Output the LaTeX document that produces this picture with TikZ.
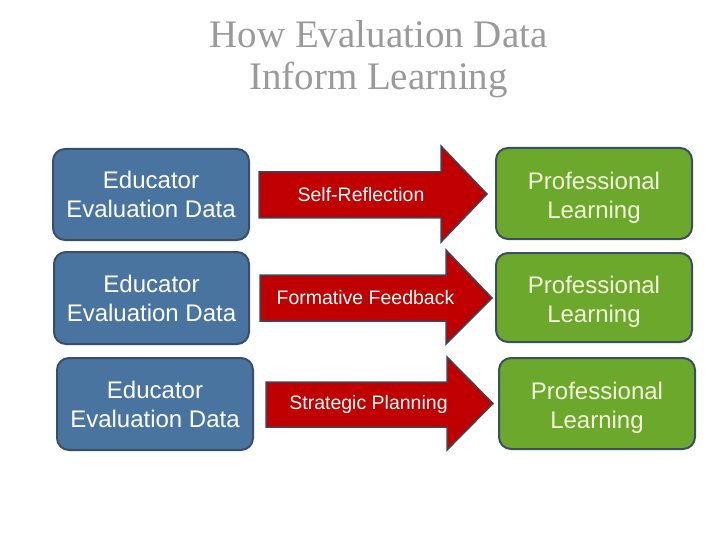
\documentclass[tikz,border=0pt]{standalone}
\usepackage{fontspec}
\setmainfont{Liberation Sans}
\newfontfamily\titlefont{Liberation Serif}
\definecolor{bluefill}{HTML}{4A74A0}
\definecolor{blueedge}{HTML}{3A4F66}
\definecolor{redfill}{HTML}{C00000}
\definecolor{rededge}{HTML}{3B4658}
\definecolor{greenfill}{HTML}{6BA82B}
\definecolor{greenedge}{HTML}{3A5060}
\definecolor{greentext}{HTML}{F4F6DC}
\definecolor{titlegray}{HTML}{9A9A9A}
\tikzset{
  box/.style={draw, line width=2pt, rounded corners=12pt},
  bluebox/.style={box, fill=bluefill, draw=blueedge},
  greenbox/.style={box, fill=greenfill, draw=greenedge},
  arrowshape/.style={fill=redfill, draw=rededge, line width=1.5pt, line join=miter},
  boxtext/.style={text=white, font=\fontsize{24}{29}\selectfont, align=center},
  greentextstyle/.style={boxtext, text=greentext},
  arrowtext/.style={text=white, font=\fontsize{19.5}{23}\selectfont, align=center},
}
\begin{document}
\begin{tikzpicture}[x=1pt, y=-1pt]
\useasboundingbox (0,0) rectangle (720,540);
% title
\node[text=titlegray, font=\titlefont\fontsize{39}{42}\selectfont, align=center] (title) at (378.5,59) {How Evaluation Data\\Inform Learning};
% row 1
\draw[bluebox] (53,149) rectangle (249,240);
\node[boxtext] (b1) at (151,194.5) {Educator\\Evaluation Data};
\draw[arrowshape] (259,172) -- (441,172) -- (441,146) -- (487,194) -- (441,242) -- (441,218) -- (259,218) -- cycle;
\node[arrowtext] (a1) at (361,195) {Self-Reflection};
\draw[greenbox] (496,148) rectangle (692,239);
\node[greentextstyle] (g1) at (594,198) {Professional\\Learning};
% row 2
\draw[bluebox] (54,252) rectangle (249,344);
\node[boxtext] (b2) at (151.5,298) {Educator\\Evaluation Data};
\draw[arrowshape] (260,275) -- (446,275) -- (446,250) -- (492,298) -- (446,344) -- (446,321) -- (260,321) -- cycle;
\node[arrowtext] (a2) at (365.5,298) {Formative Feedback};
\draw[greenbox] (496,253) rectangle (692,342);
\node[greentextstyle] (g2) at (594,302) {Professional\\Learning};
% row 3
\draw[bluebox] (57,358) rectangle (253,450);
\node[boxtext] (b3) at (155,404) {Educator\\Evaluation Data};
\draw[arrowshape] (266,382) -- (447,382) -- (447,357) -- (493,403.5) -- (447,450) -- (447,427) -- (266,427) -- cycle;
\node[arrowtext] (a3) at (368.5,404) {Strategic Planning};
\draw[greenbox] (499,358) rectangle (695,449);
\node[greentextstyle] (g3) at (597,408) {Professional\\Learning};
\end{tikzpicture}
\end{document}
